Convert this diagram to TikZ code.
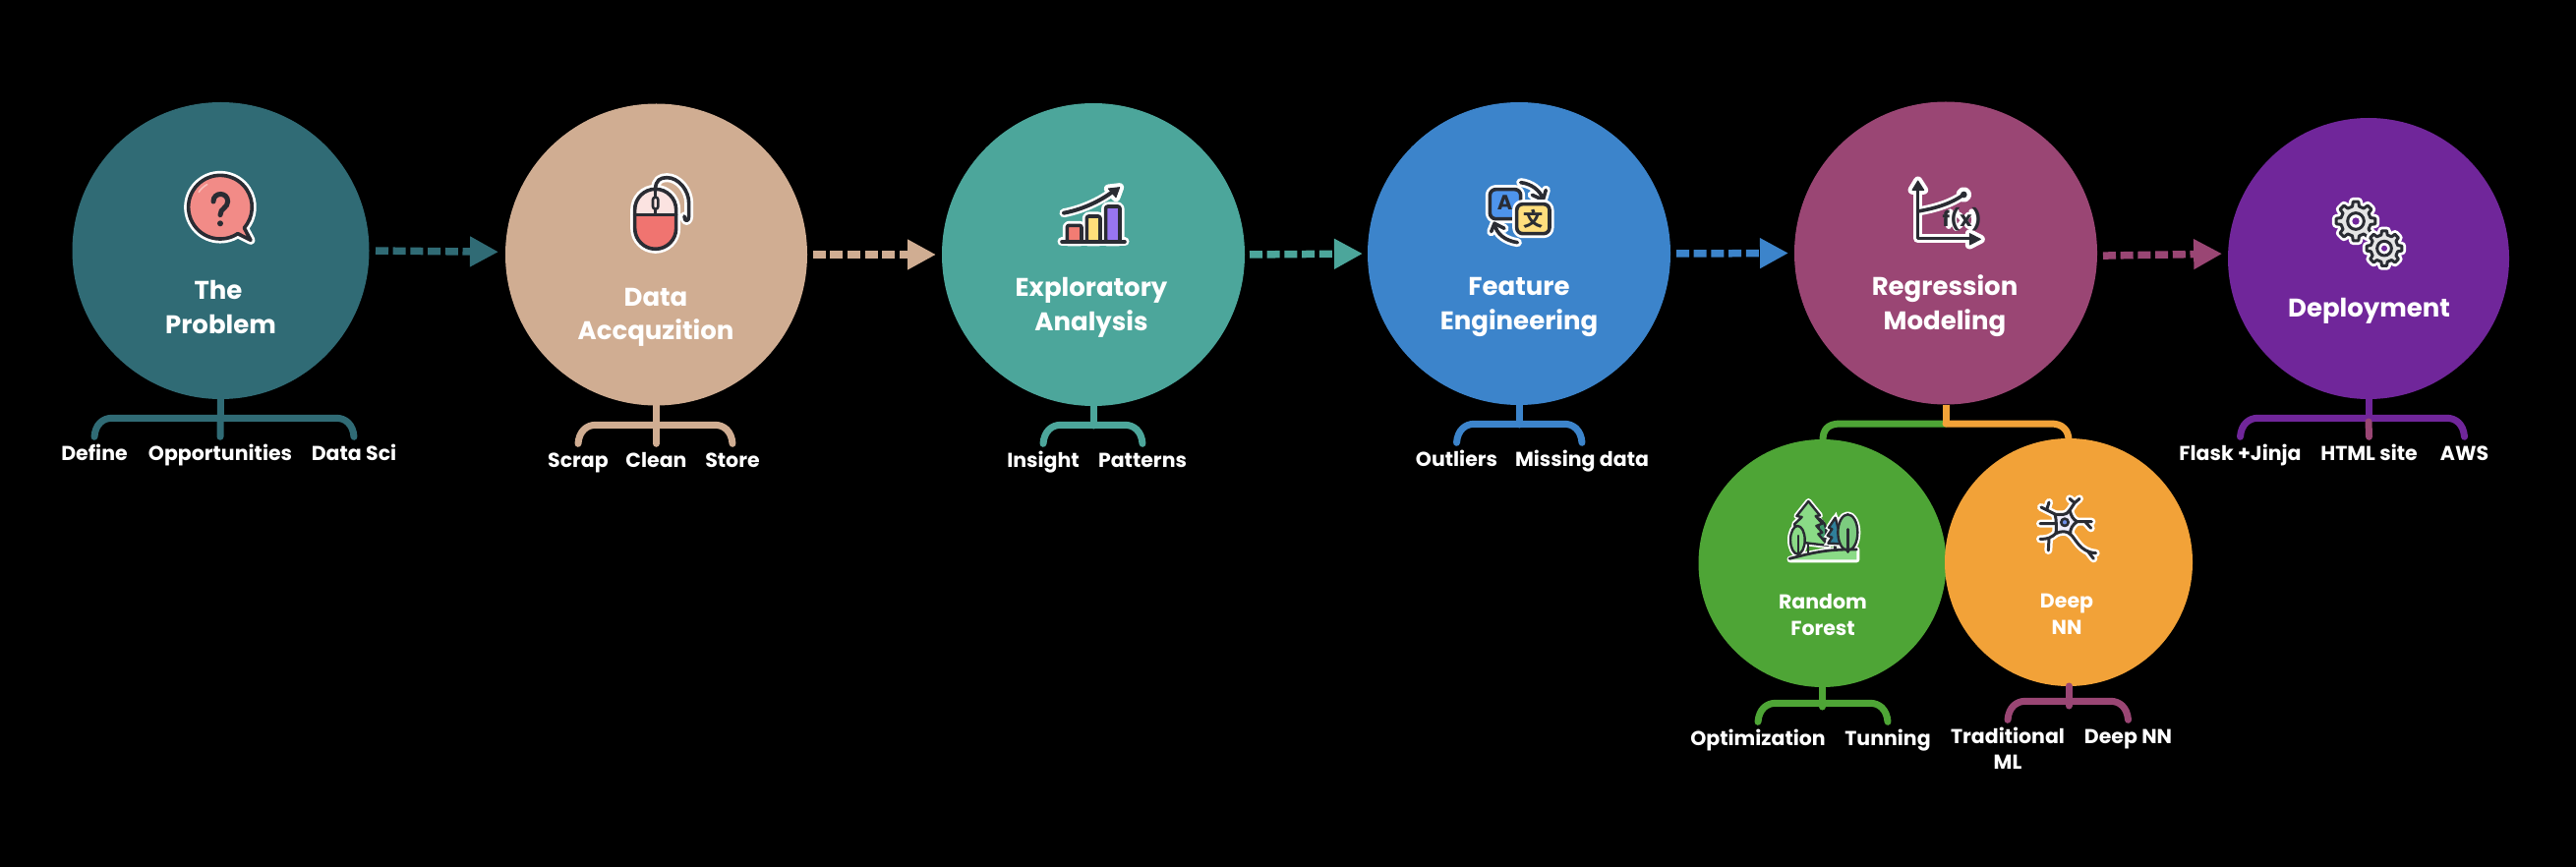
\documentclass[tikz,border=0pt]{standalone}
\usepackage{fontspec}
\setmainfont{Poppins}
\newfontfamily\cjkf{Noto Sans CJK SC}
\usetikzlibrary{arrows.meta,calc}
\definecolor{cTeal}{HTML}{306B75}
\definecolor{cTan}{HTML}{D0AD92}
\definecolor{cSea}{HTML}{4CA69B}
\definecolor{cBlue}{HTML}{3C84CB}
\definecolor{cPlum}{HTML}{9A4674}
\definecolor{cPurple}{HTML}{70269A}
\definecolor{cGreen}{HTML}{4EA536}
\definecolor{cOrange}{HTML}{F2A238}
\definecolor{ink}{HTML}{2A2C33}
\definecolor{leaf}{HTML}{8ADB86}
\tikzset{
  bubblenode/.style={circle,inner sep=0pt,outer sep=0pt,minimum size=#1*2pt},
  titletext/.style={text=white,font=\fontsize{26}{35}\selectfont\bfseries,align=center,anchor=base,inner sep=0pt},
  smalltitle/.style={text=white,font=\fontsize{20.5}{26.5}\selectfont\bfseries,align=center,anchor=base,inner sep=0pt},
  leaftext/.style={text=white,font=\fontsize{20.5}{26}\selectfont\bfseries,align=center,anchor=base,inner sep=0pt,text height=23.5pt},
  flowarrow/.style={line width=7.5pt,dash pattern=on 13pt off 4.7pt,-{Triangle[length=29pt,width=29pt]}},
  brace/.style={line width=7pt,line cap=round,line join=round},
  halo/.style={draw=white,line width=9pt,line cap=round,line join=round},
  inkline/.style={draw=ink,line width=3.6pt,line cap=round,line join=round},
  iconscale/.style={x=0.3333pt,y=-0.3333pt},
}
\newcommand{\triplebrace}[4]{%
  \draw[brace,#1] (#2.north) .. controls +(1,-13) and +(-9,0) .. ++(18,-19) -- ($(#3.north)+(-18,-19)$) .. controls +(9,0) and +(-1,-13) .. (#3.north);
  \draw[brace,#1] (#4.south) -- ($(#4.south)+(0,20)$);}
\newcommand{\gearicon}[6]{%
  \begin{scope}[shift={(#1,#2)}]
    \def\gearpath{(-12:#3) \foreach \t in {0,45,...,315}{ -- (\t-13:#3) -- (\t-8:#4) -- (\t+8:#4) -- (\t+13:#3)} -- cycle}
    \draw[halo,line width=8.5pt] \gearpath;
    \draw[inkline,line width=3pt,fill=black!10] \gearpath;
    \draw[inkline,line width=3pt,fill=white] (0,0) circle[radius=#5];
    \fill[cPurple] (0,0) circle[radius=#6];
  \end{scope}}
\begin{document}
\begin{tikzpicture}[x=1pt,y=-1pt]
\path[use as bounding box,fill=black] (0,0) rectangle (2620,882);

% main circles
\node[bubblenode=151,fill=cTeal] (c1) at (224.5,255) {};
\node[bubblenode=153.5,fill=cTan] (c2) at (667.5,259) {};
\node[bubblenode=154,fill=cSea] (c3) at (1112,259) {};
\node[bubblenode=154,fill=cBlue] (c4) at (1545,258) {};
\node[bubblenode=154,fill=cPlum] (c5) at (1979,257.5) {};
\node[bubblenode=143,fill=cPurple] (c6) at (2409,263) {};

% second level, with their connector from Regression Modeling
\coordinate (m1) at (1979,431);
\draw[brace,cGreen] (m1) -- (1872,431) .. controls (1858,431) and (1854,438) .. (1854,448);
\draw[brace,cOrange] (m1) -- (2086,431) .. controls (2098,431) and (2104,438) .. (2104,448);
\draw[brace,cOrange,line cap=butt] (c5.south) -- (m1);
\node[bubblenode=126,fill=cGreen] (c7) at (1853.5,573) {};
\node[bubblenode=126,fill=cOrange] (c8) at (2104,572) {};

% titles (a node's base is the baseline of its last line)
\node[titletext] (t1) at (224.5,340) {The\kern5pt\\Problem};
\node[titletext] (t2) at (667,346) {Data\\Accquzition};
\node[titletext] (t3) at (1110,337) {Exploratory\\Analysis};
\node[titletext] (t4) at (1545,336) {Feature\\Engineering};
\node[titletext] (t5) at (1978,336) {Regression\\Modeling};
\node[titletext] (t6) at (2409.5,323) {Deployment};
\node[smalltitle] (t7) at (1854,646) {Random\\Forest};
\node[smalltitle] (t8) at (2102,645) {Deep\\NN};

% flow arrows
\draw[flowarrow,cTeal,shorten <=6.5pt,shorten >=7pt] (c1.-0.8) -- (c2.179.4);
\draw[flowarrow,cTan,shorten <=5.5pt,shorten >=6pt] (c2.east) -- (c3.west);
\draw[flowarrow,cSea,shorten <=5pt,shorten >=5pt] (c3.east) -- (c4.west);
\draw[flowarrow,cBlue,shorten <=6pt,shorten >=6pt] (c4.east) -- (c5.west);
\draw[flowarrow,cPlum,shorten <=6pt,shorten >=6pt] (c5.-1) -- (c6.178.8);

% leaf labels
\node[leaftext] (l11) at (96,468) {Define};
\node[leaftext] (l12) at (224,468) {Opportunities};
\node[leaftext] (l13) at (360,468) {Data Sci};
\node[leaftext] (l21) at (588,475) {Scrap};
\node[leaftext] (l22) at (667.5,475) {Clean};
\node[leaftext] (l23) at (745,475) {Store};
\node[leaftext] (l31) at (1061,475) {Insight};
\node[leaftext] (l32) at (1162,475) {Patterns};
\node[leaftext] (l41) at (1481.5,474) {Outliers};
\node[leaftext] (l42) at (1609,474) {Missing data};
\node[leaftext] (l61) at (2278.5,468) {Flask +Jinja};
\node[leaftext] (l62) at (2409.5,468) {HTML site};
\node[leaftext] (l63) at (2506.5,468) {AWS};
\node[leaftext] (l71) at (1788,758) {Optimization};
\node[leaftext] (l72) at (1920,758) {Tunning};
\node[leaftext,text height=49.5pt] (l81) at (2042,782) {Traditional\\ML};
\node[leaftext] (l82) at (2164.5,756) {Deep NN};

% braces
\triplebrace{cTeal}{l11}{l13}{c1}
\draw[brace,cTeal] (c1.south) -- (l12.north);
\triplebrace{cTan}{l21}{l23}{c2}
\draw[brace,cTan] (c2.south) -- (l22.north);
\triplebrace{cSea}{l31}{l32}{c3}
\triplebrace{cBlue}{l41}{l42}{c4}
\triplebrace{cPurple}{l61}{l63}{c6}
\draw[brace,cPurple] (c6.south) -- ($(c6.south)+(0,21)$);
\draw[brace,cPlum] ($(c6.south)+(0,23)$) -- (l62.north);
\triplebrace{cGreen}{l71}{l72}{c7}
\triplebrace{cPlum}{l81}{l82}{c8}

% icon: speech bubble
\begin{scope}[shift={(150,150)},iconscale]
  \def\bub{(275.5,263) arc[start angle=56.5,end angle=401,radius=97] -- (315,283) -- cycle}
  \draw[halo] \bub;
  \draw[inkline,fill={rgb,255:red,242;green,139;blue,135}] \bub;
  \draw[line width=1.6pt,color={rgb,255:red,249;green,190;blue,186},line cap=round] (222,182) ++(215:80) arc[start angle=215,end angle=240,radius=80];
  \draw[draw=ink,line width=5pt,line cap=round] (201,165) .. controls (201,135) and (245,135) .. (245,165) .. controls (245,185) and (222,185) .. (222,206);
  \fill[ink] (222,232) circle[radius=9];
\end{scope}

% icon: mouse
\begin{scope}[shift={(610,160)},iconscale]
  \def\mbody{(107,160) arc[start angle=180,end angle=360,radius=63] -- (233,217) arc[start angle=0,end angle=180,radius=63] -- cycle}
  \def\mcable{(170,97) .. controls (170,70) and (185,62) .. (205,62) .. controls (240,62) and (272,100) .. (272,140) -- (272,180) .. controls (272,198) and (258,198) .. (258,180)}
  \draw[halo] \mbody;
  \draw[halo] \mcable;
  \fill[color={rgb,255:red,251;green,227;blue,225}] (107,175) -- (107,160) arc[start angle=180,end angle=360,radius=63] -- (233,175) -- cycle;
  \fill[color={rgb,255:red,240;green,116;blue,112}] (107,175) -- (233,175) -- (233,217) arc[start angle=0,end angle=180,radius=63] -- cycle;
  \draw[inkline] \mbody;
  \draw[inkline] \mcable;
  \draw[inkline] (107,175) -- (233,175);
  \draw[inkline,line width=2.6pt] (170,97) -- (170,122) (170,158) -- (170,175);
  \draw[inkline,line width=2.6pt,rounded corners=2.5pt,fill={rgb,255:red,251;green,227;blue,225}] (162,122) rectangle (178,158);
\end{scope}

% icon: bar chart
\begin{scope}[shift={(1050,170)},iconscale]
  \def\chA{(106,228) rectangle (150,178)}
  \def\chB{(166,228) rectangle (207,150)}
  \def\chC{(224,228) rectangle (267,120)}
  \def\chL{(96,140) .. controls (150,130) and (205,105) .. (245,75)}
  \def\chH{(266,62) -- (232,66) -- (255,92) -- cycle}
  \draw[halo] (90,228) -- (282,228);
  \draw[halo,rounded corners=2pt] \chA;
  \draw[halo,rounded corners=2pt] \chB;
  \draw[halo,rounded corners=2pt] \chC;
  \draw[halo] \chL;
  \draw[halo] \chH;
  \draw[inkline,rounded corners=2pt,fill={rgb,255:red,242;green,124;blue,115}] \chA;
  \draw[inkline,rounded corners=2pt,fill={rgb,255:red,255;green,223;blue,122}] \chB;
  \draw[inkline,rounded corners=2pt,fill={rgb,255:red,151;green,117;blue,240}] \chC;
  \draw[inkline] (90,228) -- (282,228);
  \draw[inkline,line width=4pt] \chL;
  \draw[inkline,fill=ink,line width=1pt] \chH;
\end{scope}

% icon: translation
\begin{scope}[shift={(1490,170)},iconscale]
  \def\trA{(170,47) .. controls (200,50) and (230,70) .. (238,98)}
  \def\trB{(205,85) -- (238,100) -- (247,70)}
  \def\trC{(160,230) .. controls (125,225) and (95,205) .. (90,172)}
  \def\trD{(80,197) -- (90,172) -- (120,187)}
  \draw[halo] \trA; \draw[halo] \trB; \draw[halo] \trC; \draw[halo] \trD;
  \draw[halo,rounded corners=6pt] (76,68) rectangle (170,158);
  \draw[inkline] \trA; \draw[inkline] \trB; \draw[inkline] \trC; \draw[inkline] \trD;
  \draw[inkline,rounded corners=6pt,fill={rgb,255:red,78;green,148;blue,236}] (76,68) rectangle (170,158);
  \draw[halo,rounded corners=6pt] (158,113) rectangle (258,203);
  \draw[inkline,rounded corners=6pt,fill={rgb,255:red,255;green,222;blue,125}] (158,113) rectangle (258,203);
  \node[text=ink,inner sep=0pt,font=\fontsize{21}{21}\selectfont\bfseries] (ia) at (122,108) {A};
  \node[text=ink,inner sep=0pt,font=\fontsize{20}{20}\cjkf\bfseries] (iz) at (208,157) {文};
\end{scope}

% icon: f(x)
\begin{scope}[shift={(1920,170)},iconscale]
  \def\fxA{(92,70) -- (92,218) -- (250,218)}
  \def\fxB{(92,42) -- (75,70) -- (110,70) -- cycle}
  \def\fxC{(283,220) -- (250,203) -- (250,237) -- cycle}
  \def\fxD{(92,135) .. controls (150,125) and (195,110) .. (230,85)}
  \draw[halo] \fxA; \draw[halo] \fxB; \draw[halo] \fxC; \draw[halo] \fxD;
  \draw[halo] (232,84) circle[radius=10];
  \draw[inkline] \fxA;
  \draw[inkline,fill=ink,line width=1pt] \fxB;
  \draw[inkline,fill=ink,line width=1pt] \fxC;
  \draw[inkline] \fxD;
  \fill[ink] (232,84) circle[radius=10];
  \draw[white,line width=6pt,line cap=round] (190,136) -- (186,180) (178,150) -- (196,150) (209,136) .. controls (198,150) and (198,170) .. (209,186) (218,146) -- (246,180) (246,146) -- (218,180) (256,136) .. controls (268,150) and (268,170) .. (256,186);
  \node[text=ink,inner sep=0pt,font=\fontsize{21}{21}\selectfont\bfseries] (ifx) at (227,158) {f(x)};
\end{scope}

% icon: gears
\begin{scope}[shift={(2360,190)},iconscale]
  \gearicon{108}{105}{46}{60}{25}{11}
  \gearicon{195}{188}{42}{54}{22}{9}
\end{scope}

% icon: forest
\begin{scope}[shift={(1800,490)},iconscale]
  \def\foG{(62,236) .. controls (120,220) and (170,205) .. (265,207) -- (265,238) -- (62,238) -- cycle}
  \def\foT{(118,60) -- (153,103) -- (140,105) -- (160,128) -- (142,135) -- (160,155) -- (148,160) -- (178,195) -- (95,185) -- (75,130) -- (98,108) -- (82,105) -- cycle}
  \def\foD{(148,112) .. controls (170,120) and (178,150) .. (168,178) -- (150,170) -- cycle}
  \def\foB{(200,110) -- (222,190) -- (178,188) -- (190,170) -- (176,165) -- (190,145) -- (180,140) -- cycle}
  \def\foL{(85,178) ellipse[x radius=22,y radius=43]}
  \def\foR{(238,155) ellipse[x radius=30,y radius=55]}
  \draw[halo,line width=6pt] \foG; \draw[halo,line width=6pt] \foT; \draw[halo,line width=6pt] \foB; \draw[halo,line width=6pt] \foL; \draw[halo,line width=6pt] \foR;
  \fill[leaf] \foG;
  \draw[inkline,line width=2.4pt,fill={rgb,255:red,62;green,154;blue,106}] \foD;
  \draw[inkline,line width=2.4pt] (117,185) -- (117,218) (200,190) -- (200,208);
  \draw[inkline,line width=2.4pt,fill=leaf] \foT;
  \draw[draw=white,line width=5pt,fill={rgb,255:red,47;green,127;blue,154}] \foB;
  \draw[inkline,line width=2.4pt,fill={rgb,255:red,47;green,127;blue,154}] \foB;
  \draw[inkline,line width=2.4pt,fill=leaf] \foL;
  \draw[inkline,line width=2.4pt,fill={rgb,255:red,124;green,203;blue,127}] \foR;
  \draw[inkline,line width=2.4pt] (87,165) -- (87,225) (238,145) -- (238,215);
  \draw[inkline,line width=2.8pt] (60,235) .. controls (120,220) and (170,205) .. (265,207);
\end{scope}

% icon: neuron
\begin{scope}[shift={(2060,490)},iconscale]
  \def\neB{(90,100) .. controls (105,100) and (125,105) .. (135,88) .. controls (140,105) and (145,115) .. (158,122) .. controls (145,130) and (135,145) .. (137,160) .. controls (125,150) and (110,150) .. (93,158) .. controls (95,145) and (95,115) .. (90,100) -- cycle}
  \def\neA{(130,95) -- (150,65) (150,65) -- (135,52) (150,65) -- (165,52)}
  \def\neC{(92,100) -- (48,78) (65,86) -- (72,63)}
  \def\neD{(92,128) -- (45,128)}
  \def\neE{(95,155) .. controls (80,172) and (65,176) .. (45,175) (72,172) -- (70,210)}
  \def\neF{(150,122) -- (202,122) (182,122) -- (200,142)}
  \def\neG{(135,158) .. controls (155,175) and (165,215) .. (215,218) (190,212) -- (208,235)}
  \draw[halo,line width=8pt] \neA \neC \neD \neE \neF \neG;
  \draw[halo,line width=8pt] \neB;
  \draw[inkline,line width=3pt] \neA \neC \neD \neE \neF \neG;
  \draw[inkline,line width=3pt,fill={rgb,255:red,238;green,236;blue,250}] \neB;
  \draw[inkline,line width=2.6pt,fill={rgb,255:red,111;green,143;blue,232}] (120,124) circle[radius=11];
\end{scope}
\end{tikzpicture}
\end{document}
